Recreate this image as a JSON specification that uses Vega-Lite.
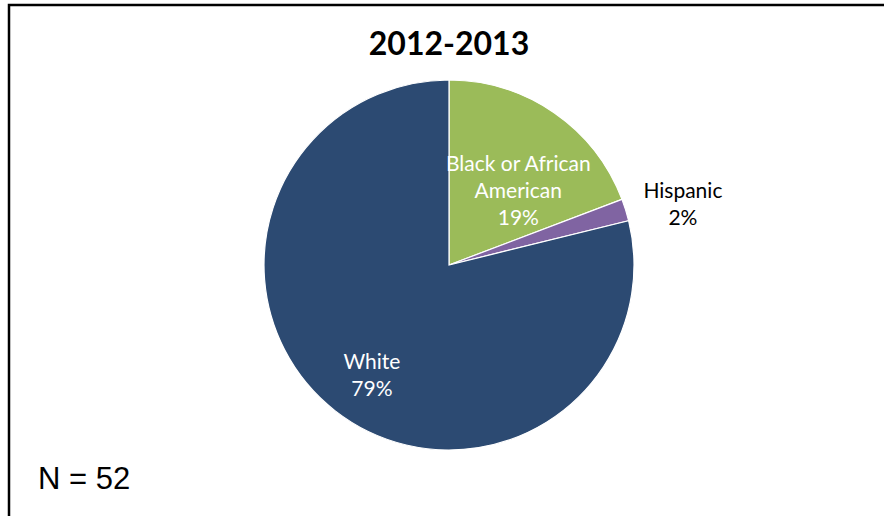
{
  "$schema": "https://vega.github.io/schema/vega-lite/v6.json",
  "width": 880,
  "height": 520,
  "autosize": "none",
  "padding": {"left": 9, "top": 5, "right": 0, "bottom": 0},
  "background": "white",
  "config": {"view": {"stroke": "black", "strokeWidth": 2.5}},
  "title": {"text": "2012-2013", "font": "Lato", "fontSize": 32, "fontWeight": "bold", "color": "black", "anchor": "middle", "frame": "group", "offset": -57},
  "layer": [
    {
      "data": {"values": [
        {"race": "Black or African American", "count": 10, "lines": ["Black or African", "American", "19%"]},
        {"race": "Hispanic", "count": 1, "lines": ["Hispanic", "2%"]},
        {"race": "White", "count": 41, "lines": ["White", "79%"]}
      ]},
      "encoding": {
        "theta": {"field": "count", "type": "quantitative", "stack": true},
        "order": {"field": "race", "type": "nominal"}
      },
      "layer": [
        {
          "mark": {"type": "arc", "outerRadius": 185, "stroke": "white", "strokeWidth": 1.2},
          "encoding": {
            "color": {"field": "race", "type": "nominal", "legend": null,
              "scale": {"domain": ["Black or African American", "Hispanic", "White"], "range": ["#9BBB59", "#8064A2", "#2C4A72"]}}
          }
        },
        {
          "mark": {"type": "text", "font": "Lato", "fontSize": 21, "align": "center", "baseline": "middle", "lineHeight": 27, "radius": 122, "color": "white"},
          "encoding": {
            "detail": {"field": "race", "type": "nominal"},
            "text": {"condition": {"test": "datum.race === 'Black or African American'", "field": "lines"}, "value": ""}
          }
        },
        {
          "mark": {"type": "text", "font": "Lato", "fontSize": 21, "align": "center", "baseline": "middle", "lineHeight": 27, "radius": 245, "color": "black"},
          "encoding": {
            "detail": {"field": "race", "type": "nominal"},
            "text": {"condition": {"test": "datum.race === 'Hispanic'", "field": "lines"}, "value": ""}
          }
        },
        {
          "mark": {"type": "text", "font": "Lato", "fontSize": 21, "align": "center", "baseline": "middle", "lineHeight": 27, "radius": 125, "color": "white"},
          "encoding": {
            "detail": {"field": "race", "type": "nominal"},
            "text": {"condition": {"test": "datum.race === 'White'", "field": "lines"}, "value": ""}
          }
        }
      ]
    },
    {
      "data": {"values": [{"note": "N = 52"}]},
      "mark": {"type": "text", "font": "Liberation Sans", "fontSize": 31, "align": "left", "baseline": "alphabetic", "color": "black"},
      "encoding": {
        "text": {"field": "note"},
        "x": {"value": 29},
        "y": {"value": 484}
      }
    }
  ]
}
